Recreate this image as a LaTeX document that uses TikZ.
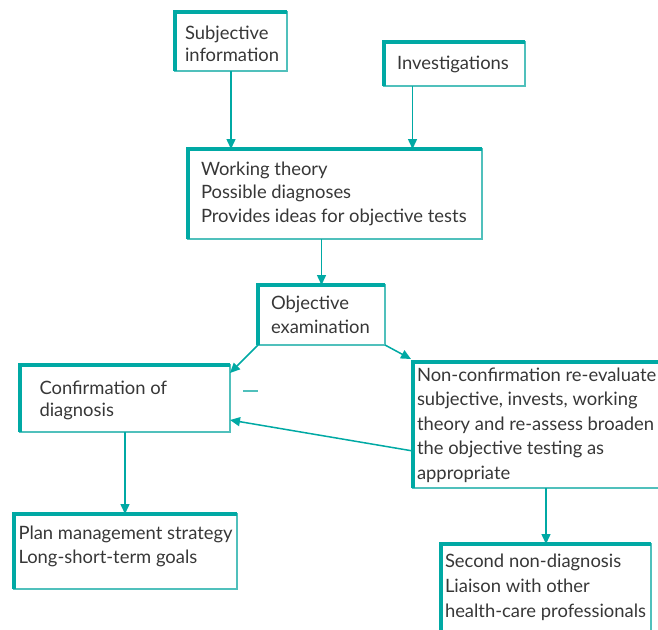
\documentclass[tikz,border=0pt]{standalone}
\usepackage{fontspec}
\setmainfont{Lato}
\usetikzlibrary{arrows.meta,calc}
\definecolor{tealA}{RGB}{0,169,164}
\definecolor{tealB}{RGB}{80,192,188}
\definecolor{txtc}{RGB}{55,55,55}
\begin{document}
\begin{tikzpicture}[x=1pt,y=-1pt,
  box/.style 2 args={draw=tealB, line width=1.3pt, anchor=north west, inner sep=0pt, outer sep=0pt, minimum width=#1, minimum height=#2},
  lbl/.style={anchor=base west, inner sep=0pt, outer sep=0pt, align=left, text=txtc, font=\fontsize{18.4}{#1}\selectfont},
  lbl/.default=24,
  thickedge/.style={draw=tealA, line width=3.6pt, line join=miter},
  arr/.style={draw=tealA, line width=1.5pt, -{Triangle[length=10pt,width=9pt]}},
  stray/.style={draw=tealB, line width=1.3pt}]
\useasboundingbox (0,0) rectangle (658,629);
\clip (0,0) rectangle (658,629);
% boxes
\node[box={112pt}{59pt}] (subjB) at (175,12) {};
\node[box={141pt}{44pt}] (invB) at (384,42) {};
\node[box={294pt}{90pt}] (workB) at (188,149) {};
\node[box={127pt}{60pt}] (objB) at (258,285) {};
\node[box={210pt}{67pt}] (confB) at (20,365) {};
\node[box={277pt}{126pt}] (noncB) at (413,362) {};
\node[box={223pt}{75pt}] (planB) at (14,514) {};
\node[box={210pt}{106pt}] (secB) at (441,544) {};
\foreach \n in {subjB,invB,workB,objB,confB,noncB,planB,secB}
  \draw[thickedge] (\n.south west) -- (\n.north west) -- (\n.north east);
% texts (anchored at the baseline of their last line)
\node[lbl=22.5] (subj) at (185,61.5) {Subjective\\information};
\node[lbl] (inv) at (397,69) {Investigations};
\node[lbl=23.8] (work) at (201,222.6) {Working theory\\Possible diagnoses\\Provides ideas for objective tests};
\node[lbl=24.7] (obj) at (271,333.7) {Objective\\examination};
\node[lbl=22] (conf) at (39.5,416) {Confirmation of\\diagnosis};
\node[lbl=24.4] (nonc) at (417,479.1) {Non-confirmation re-evaluate\\subjective, invests, working\\theory and re-assess broaden\\the objective testing as\\appropriate};
\node[lbl=24] (plan) at (18.5,563) {Plan management strategy\\Long-short-term goals};
\node[lbl=25] (sec) at (445,617.5) {Second non-diagnosis\\Liaison with other\\health-care professionals};
% connectors
\draw[arr] (subjB.south) -- (subjB.south |- workB.north);
\coordinate (invOut) at ($(invB.south west)+(28.5,0)$);
\draw[arr] (invOut) -- (invOut |- workB.north);
\draw[arr] (objB.north |- workB.south) -- (objB.north);
\draw[arr] (objB.south west) -- ($(confB.north east)+(0,8)$);
\draw[arr] (objB.south east) -- ($(noncB.north west)+(-2,-3)$);
\draw[arr] ($(noncB.south west)+(0,-37)$) -- ($(confB.south east)+(0,-12)$);
\draw[arr] (confB.south) -- (confB.south |- planB.north);
\draw[arr] (secB.north |- noncB.south) -- (secB.north);
% stray mark
\coordinate (dashA) at (243,391);
\coordinate (dashB) at (258,391);
\draw[stray] (dashA) -- (dashB);
\end{tikzpicture}
\end{document}
